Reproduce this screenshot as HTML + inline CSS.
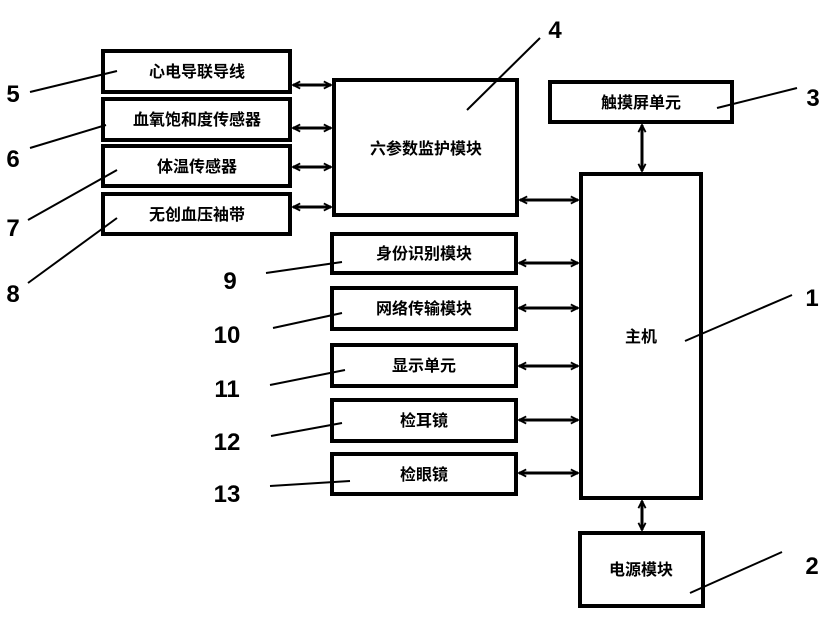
<!DOCTYPE html>
<html><head><meta charset="utf-8"><style>
body{margin:0;background:#fff;width:828px;height:619px;overflow:hidden}
svg text{font-family:"Liberation Sans","Noto Sans CJK SC",sans-serif;font-weight:bold;fill:#000}
</style></head><body>
<svg width="828" height="619" viewBox="0 0 828 619" xmlns="http://www.w3.org/2000/svg">
<defs>
<marker id="a" viewBox="0 0 10 10" refX="9" refY="5" markerWidth="9" markerHeight="9" markerUnits="userSpaceOnUse" orient="auto-start-reverse">
<path d="M1,1 L9,5 L1,9" fill="none" stroke="#000" stroke-width="2"/></marker>
</defs>
<g fill="none" stroke="#000" stroke-width="4">
<rect x="103" y="51" width="187" height="41"/>
<rect x="103" y="99" width="187" height="41"/>
<rect x="103" y="146" width="187" height="40"/>
<rect x="103" y="194" width="187" height="40"/>
<rect x="334" y="80" width="183" height="135"/>
<rect x="550" y="82" width="182" height="40"/>
<rect x="581" y="174" width="120" height="324"/>
<rect x="580" y="533" width="123" height="73"/>
<rect x="332" y="234" width="184" height="39"/>
<rect x="332" y="288" width="184" height="41"/>
<rect x="332" y="345" width="184" height="41"/>
<rect x="332" y="400" width="184" height="41"/>
<rect x="332" y="454" width="184" height="40"/>
</g>
<g stroke="#000" stroke-width="3" marker-start="url(#a)" marker-end="url(#a)">
<line x1="293" y1="85" x2="331" y2="85"/>
<line x1="293" y1="128" x2="331" y2="128"/>
<line x1="293" y1="167" x2="331" y2="167"/>
<line x1="293" y1="207" x2="331" y2="207"/>
<line x1="520" y1="200" x2="578" y2="200"/>
<line x1="519" y1="263" x2="578" y2="263"/>
<line x1="519" y1="308" x2="578" y2="308"/>
<line x1="519" y1="366" x2="578" y2="366"/>
<line x1="519" y1="420" x2="578" y2="420"/>
<line x1="519" y1="473" x2="578" y2="473"/>
<line x1="642" y1="125" x2="642" y2="171"/>
<line x1="642" y1="501" x2="642" y2="530"/>
</g>
<g stroke="#000" stroke-width="2">
<line x1="30" y1="92" x2="117" y2="71"/>
<line x1="30" y1="148" x2="106" y2="125"/>
<line x1="28" y1="220" x2="117" y2="170"/>
<line x1="28" y1="283" x2="117" y2="218"/>
<line x1="540" y1="38" x2="467" y2="110"/>
<line x1="797" y1="88" x2="717" y2="108"/>
<line x1="792" y1="295" x2="685" y2="341"/>
<line x1="782" y1="552" x2="690" y2="593"/>
<line x1="266" y1="273" x2="342" y2="262"/>
<line x1="273" y1="328" x2="342" y2="313"/>
<line x1="270" y1="385" x2="345" y2="370"/>
<line x1="271" y1="436" x2="342" y2="423"/>
<line x1="270" y1="486" x2="350" y2="481"/>
</g>
<g font-size="16" text-anchor="middle">
<text x="197" y="77">心电导联导线</text>
<text x="197" y="125">血氧饱和度传感器</text>
<text x="197" y="172">体温传感器</text>
<text x="197" y="220">无创血压袖带</text>
<text x="426" y="154">六参数监护模块</text>
<text x="641" y="108">触摸屏单元</text>
<text x="641" y="342">主机</text>
<text x="641" y="575">电源模块</text>
<text x="424" y="259">身份识别模块</text>
<text x="424" y="314">网络传输模块</text>
<text x="424" y="371">显示单元</text>
<text x="424" y="426">检耳镜</text>
<text x="424" y="480">检眼镜</text>
</g>
<g font-size="24" text-anchor="middle">
<text x="13" y="102">5</text>
<text x="13" y="167">6</text>
<text x="13" y="236">7</text>
<text x="13" y="302">8</text>
<text x="555" y="38">4</text>
<text x="813" y="106">3</text>
<text x="812" y="306">1</text>
<text x="812" y="574">2</text>
<text x="230" y="289">9</text>
<text x="227" y="343">10</text>
<text x="227" y="397">11</text>
<text x="227" y="450">12</text>
<text x="227" y="502">13</text>
</g>
</svg>
</body></html>
